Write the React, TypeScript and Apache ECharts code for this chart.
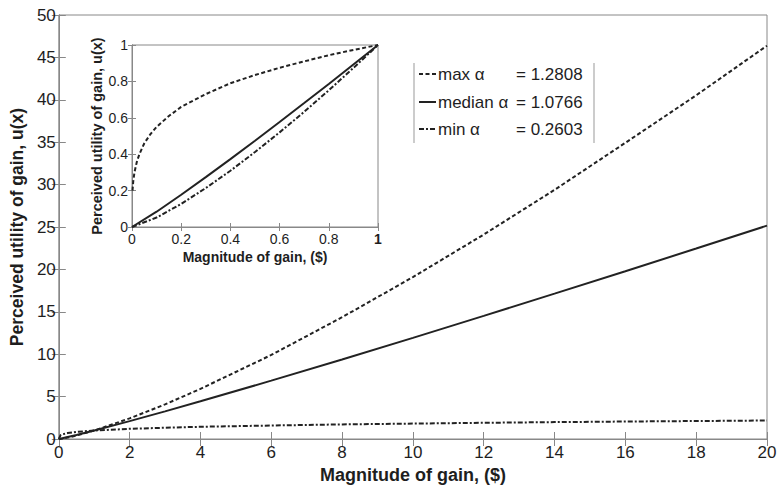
import React, { useEffect, useRef } from "react";
import * as echarts from "echarts";

// Main chart data
const mainX = [0, 0.05, 0.1, 0.25, 0.5, 1, 2, 3, 4, 6, 8, 10, 12, 14, 16, 18, 20];
const maxAlphaY = [0, 0.02, 0.05, 0.17, 0.41, 1, 2.43, 4.08, 5.91, 9.91, 14.36, 19.09, 24.11, 29.38, 34.93, 40.53, 46.38];
const medianAlphaY = [0, 0.04, 0.08, 0.23, 0.47, 1, 2.11, 3.26, 4.45, 6.88, 9.38, 11.93, 14.52, 17.14, 19.79, 22.46, 25.16];
const minAlphaY = [0, 0.46, 0.55, 0.7, 0.84, 1, 1.2, 1.33, 1.44, 1.59, 1.72, 1.82, 1.91, 1.99, 2.06, 2.12, 2.18];

// Inset data (normalized)
const insetConcaveX = [0.002, 0.005, 0.01, 0.02, 0.03, 0.05, 0.075, 0.1, 0.15, 0.2, 0.3, 0.4, 0.5, 0.6, 0.7, 0.8, 0.9, 1];
const insetConcaveY = [0.2, 0.25, 0.3, 0.36, 0.4, 0.46, 0.51, 0.55, 0.61, 0.66, 0.73, 0.79, 0.835, 0.875, 0.91, 0.944, 0.973, 1];
const insetX = [0, 0.1, 0.2, 0.3, 0.4, 0.5, 0.6, 0.7, 0.8, 0.9, 1];
const insetSolidY = [0, 0.084, 0.177, 0.274, 0.373, 0.474, 0.577, 0.681, 0.786, 0.893, 1];
const insetDashDotY = [0, 0.052, 0.127, 0.214, 0.309, 0.412, 0.52, 0.633, 0.751, 0.874, 1];

const legendNames = ["max \u03b1", "median \u03b1", "min \u03b1"];
const legendValues = ["= 1.2808", "= 1.0766", "= 0.2603"];

const FONT = "Liberation Sans, Arial, Helvetica, sans-serif";
const AX = "#888";
const TXT = "#1e1e1e";
const LINE = "#222";

const zip = (xs: number[], ys: number[]) => xs.map((x, i) => [x, ys[i]]);

const DASH = [4, 2.5];
const DASHDOT = [5, 2, 2, 2];

export default function App() {
  const ref = useRef<HTMLDivElement>(null);
  useEffect(() => {
    if (!ref.current) return;
    const chart = echarts.init(ref.current, undefined, { renderer: "svg" });

    const baseAxis = (extra: any) => ({
      type: "value",
      axisLine: { show: true, lineStyle: { color: AX, width: 1 } },
      splitLine: { show: false },
      ...extra,
    });

    const legendRows = [74, 102, 129];
    const legendGraphics: any[] = [
      { type: "line", shape: { x1: 414, y1: 63, x2: 414, y2: 143 }, style: { stroke: "#999", lineWidth: 1 } },
      { type: "line", shape: { x1: 594, y1: 63, x2: 594, y2: 143 }, style: { stroke: "#999", lineWidth: 1 } },
    ];
    const dashes = [DASH, null, DASHDOT];
    legendRows.forEach((y, i) => {
      legendGraphics.push({
        type: "line",
        shape: { x1: 419, y1: y, x2: 436, y2: y },
        style: { stroke: LINE, lineWidth: 2, lineDash: dashes[i] || undefined },
      });
      legendGraphics.push({
        type: "text",
        x: 438,
        y: y,
        style: { text: legendNames[i], fontSize: 17, fontFamily: FONT, fill: TXT, verticalAlign: "middle", align: "left" },
      });
      legendGraphics.push({
        type: "text",
        x: 516,
        y: y,
        style: { text: legendValues[i], fontSize: 17, fontFamily: FONT, fill: TXT, verticalAlign: "middle", align: "left" },
      });
    });

    const option: any = {
      animation: false,
      backgroundColor: "#fff",
      textStyle: { fontFamily: FONT },
      grid: [
        { left: 55, top: 15, width: 712, height: 424, show: true, borderColor: AX, borderWidth: 1, backgroundColor: "#fff" },
        { left: 132, top: 45, width: 246, height: 182, show: true, borderColor: AX, borderWidth: 1, backgroundColor: "#fff", z: 5 },
      ],
      xAxis: [
        baseAxis({
          gridIndex: 0, min: 0, max: 20, interval: 2, position: "bottom",
          axisTick: { show: true, inside: true, length: 7, lineStyle: { color: AX } },
          axisLabel: { fontSize: 17, color: TXT, margin: 5 },
          name: "Magnitude of gain, ($)", nameLocation: "middle", nameGap: 27,
          nameTextStyle: { fontSize: 18, fontWeight: "bold", color: TXT },
        }),
        baseAxis({
          gridIndex: 0, min: 0, max: 20, interval: 2, position: "top",
          axisTick: { show: true, inside: true, length: 7, lineStyle: { color: AX } },
          axisLabel: { show: false },
        }),
        baseAxis({
          gridIndex: 1, min: 0, max: 1, interval: 0.2, position: "bottom",
          axisTick: { show: true, inside: true, length: 4, lineStyle: { color: AX } },
          axisLabel: {
            fontSize: 14, color: TXT, margin: 5,
            formatter: (v: number) => (v === 1 ? "{b|1}" : String(v)),
            rich: { b: { fontSize: 14, fontWeight: "bold", color: TXT } },
          },
          name: "Magnitude of gain, ($)", nameLocation: "middle", nameGap: 23,
          nameTextStyle: { fontSize: 14, fontWeight: "bold", color: TXT },
          z: 6,
        }),
        baseAxis({
          gridIndex: 1, min: 0, max: 1, interval: 0.2, position: "top",
          axisTick: { show: true, inside: true, length: 4, lineStyle: { color: AX } },
          axisLabel: { show: false },
          z: 6,
        }),
      ],
      yAxis: [
        baseAxis({
          gridIndex: 0, min: 0, max: 50, interval: 5, position: "left",
          axisTick: { show: true, inside: true, length: 7, lineStyle: { color: AX } },
          axisLabel: { fontSize: 17, color: TXT, margin: 3 },
          name: "Perceived utility of gain, u(x)", nameLocation: "middle", nameGap: 28, nameRotate: 90,
          nameTextStyle: { fontSize: 17.5, fontWeight: "bold", color: TXT },
        }),
        baseAxis({
          gridIndex: 0, min: 0, max: 50, interval: 5, position: "right",
          axisTick: { show: true, inside: true, length: 7, lineStyle: { color: AX } },
          axisLabel: { show: false },
        }),
        baseAxis({
          gridIndex: 1, min: 0, max: 1, interval: 0.2, position: "left",
          axisTick: { show: true, inside: true, length: 4, lineStyle: { color: AX } },
          axisLabel: { fontSize: 14, color: TXT, margin: 4 },
          name: "Perceived utility of gain, u(x)", nameLocation: "middle", nameGap: 23, nameRotate: 90,
          nameTextStyle: { fontSize: 14.5, fontWeight: "bold", color: TXT },
          z: 6,
        }),
        baseAxis({
          gridIndex: 1, min: 0, max: 1, interval: 0.2, position: "right",
          axisTick: { show: true, inside: true, length: 4, lineStyle: { color: AX } },
          axisLabel: { show: false },
          z: 6,
        }),
      ],
      series: [
        { type: "line", xAxisIndex: 0, yAxisIndex: 0, data: zip(mainX, maxAlphaY), symbol: "none", lineStyle: { color: LINE, width: 2, type: DASH } },
        { type: "line", xAxisIndex: 0, yAxisIndex: 0, data: zip(mainX, medianAlphaY), symbol: "none", lineStyle: { color: LINE, width: 2, type: "solid" } },
        { type: "line", xAxisIndex: 0, yAxisIndex: 0, data: zip(mainX, minAlphaY), symbol: "none", lineStyle: { color: LINE, width: 2, type: DASHDOT } },
        { type: "line", xAxisIndex: 2, yAxisIndex: 2, data: zip(insetConcaveX, insetConcaveY), symbol: "none", z: 7, lineStyle: { color: LINE, width: 2, type: DASH } },
        { type: "line", xAxisIndex: 2, yAxisIndex: 2, data: zip(insetX, insetSolidY), symbol: "none", z: 7, lineStyle: { color: LINE, width: 2, type: "solid" } },
        { type: "line", xAxisIndex: 2, yAxisIndex: 2, data: zip(insetX, insetDashDotY), symbol: "none", z: 7, lineStyle: { color: LINE, width: 2, type: DASHDOT } },
      ],
      graphic: legendGraphics,
    };
    chart.setOption(option);
    return () => chart.dispose();
  }, []);
  return <div ref={ref} style={{ position: "absolute", left: 0, top: 0, width: 781, height: 491 }} />;
}
